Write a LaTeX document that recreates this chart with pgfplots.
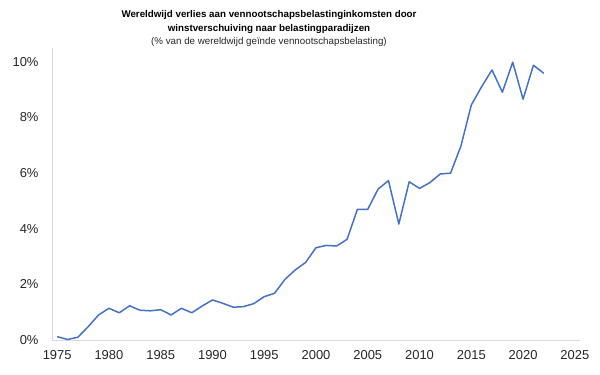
\documentclass[border=0pt]{standalone}
\usepackage{pgfplots}
\pgfplotsset{compat=1.18}
\usepackage{fontspec}
\setmainfont{Liberation Sans}
\definecolor{lineblue}{HTML}{4472C4}
\definecolor{axgray}{HTML}{D9D9D9}
\definecolor{txt}{HTML}{262626}
\begin{document}
\begin{tikzpicture}[x=1bp,y=1bp]
\useasboundingbox (0,0) rectangle (600,374);
\node[font=\fontsize{9.8}{11}\selectfont\bfseries, text=black] at (269,359) {Wereldwijd verlies aan vennootschapsbelastinginkomsten door};
\node[font=\fontsize{9.8}{11}\selectfont\bfseries, text=black] at (269,345) {winstverschuiving naar belastingparadijzen};
\node[font=\fontsize{9.8}{11}\selectfont, text=txt] at (269,332) {(\% van de wereldwijd geïnde vennootschapsbelasting)};
\begin{axis}[
  at={(52bp,34bp)}, anchor=south west,
  scale only axis, width=528bp, height=292bp,
  xmin=1974.5, xmax=2025.5, ymin=0, ymax=10.5,
  axis x line=bottom, axis y line=left,
  axis line style={draw=axgray, line width=0.9pt, -},
  xtick={1975,1980,...,2025}, ytick={0,2,4,6,8,10},
  major tick length=0pt,
  xticklabel style={font=\fontsize{13}{15}\selectfont, text=txt, yshift=-7bp},
  yticklabel style={font=\fontsize{13}{15}\selectfont, text=txt, xshift=-10bp},
  xticklabel={\pgfmathprintnumber[1000 sep={}]{\tick}},
  yticklabel={\pgfmathprintnumber{\tick}\%},
  /pgf/number format/assume math mode=true,
  clip=false,
]
\addplot[lineblue, line width=1.5pt, line join=round] coordinates {
(1975,0.12) (1976,0.02) (1977,0.10) (1978,0.48) (1979,0.90) (1980,1.14)
(1981,0.98) (1982,1.23) (1983,1.07) (1984,1.05) (1985,1.09) (1986,0.90)
(1987,1.14) (1988,0.98) (1989,1.22) (1990,1.44) (1991,1.32) (1992,1.18)
(1993,1.20) (1994,1.31) (1995,1.56) (1996,1.68) (1997,2.18) (1998,2.52)
(1999,2.79) (2000,3.32) (2001,3.40) (2002,3.38) (2003,3.62) (2004,4.70)
(2005,4.70) (2006,5.43) (2007,5.73) (2008,4.17) (2009,5.69) (2010,5.45)
(2011,5.66) (2012,5.97) (2013,6.00) (2014,6.98) (2015,8.45) (2016,9.11)
(2017,9.71) (2018,8.91) (2019,9.99) (2020,8.66) (2021,9.88) (2022,9.59)
};
\end{axis}
\end{tikzpicture}
\end{document}
